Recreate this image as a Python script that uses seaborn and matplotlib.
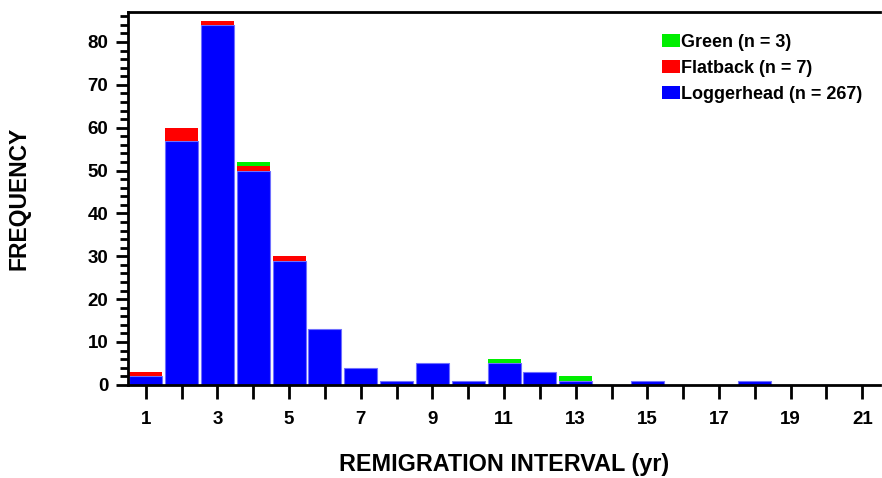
import matplotlib
matplotlib.use("Agg")
import matplotlib.pyplot as plt
import seaborn as sns
import pandas as pd
from matplotlib.patches import Patch
from matplotlib.ticker import MultipleLocator
from matplotlib.colors import to_hex

intervals = list(range(1, 22))
loggerhead = [2, 57, 84, 50, 29, 13, 4, 1, 5, 1, 5, 3, 1, 0, 1, 0, 0, 1, 0, 0, 0]
flatback = [1, 3, 1, 1, 1, 0, 0, 0, 0, 0, 0, 0, 0, 0, 0, 0, 0, 0, 0, 0, 0]
green = [0, 0, 0, 1, 0, 0, 0, 0, 0, 0, 1, 0, 1, 0, 0, 0, 0, 0, 0, 0, 0]
species = ["Green", "Flatback", "Loggerhead"]
labels = ["Green (n = 3)", "Flatback (n = 7)", "Loggerhead (n = 267)"]
colors = {"Green": "#00ee00", "Flatback": "#ff0000", "Loggerhead": "#0000ff"}

rows = []
for sp, vals in zip(species, [green, flatback, loggerhead]):
    for x, v in zip(intervals, vals):
        rows.append({"interval": x, "count": v, "species": sp})
df = pd.DataFrame(rows)

sns.set_style("white")
plt.rcParams['font.family'] = ['Liberation Sans', 'DejaVu Sans']
plt.rcParams['font.weight'] = 'bold'
plt.rcParams['text.color'] = 'black'
plt.rcParams['axes.labelcolor'] = 'black'
plt.rcParams['xtick.color'] = 'black'
plt.rcParams['ytick.color'] = 'black'

fig = plt.figure(figsize=(8.82, 4.78), dpi=100)
ax = fig.add_axes([0.145, 0.195, 0.853, 0.78])

sns.histplot(data=df, x="interval", weights="count", hue="species",
             hue_order=species, multiple="stack", discrete=True, shrink=0.92,
             palette=colors, alpha=1, edgecolor="#6f6fff", linewidth=0.8,
             legend=False, ax=ax)
for p in ax.patches:
    if to_hex(p.get_facecolor()) != "#0000ff":
        p.set_edgecolor("none")

ax.set_xlim(0.5, 21.5)
ax.set_ylim(0, 87)
ax.set_xticks(range(1, 22, 2))
ax.xaxis.set_minor_locator(MultipleLocator(1))
ax.yaxis.set_major_locator(MultipleLocator(10))
ax.yaxis.set_minor_locator(MultipleLocator(2))
ax.tick_params(axis="x", which="both", direction="out", length=10, width=2,
               labelsize=13.5, colors="black", bottom=True, pad=9)
ax.tick_params(axis="y", which="major", direction="out", length=9, width=2,
               labelsize=13.5, colors="black", left=True, pad=5)
ax.tick_params(axis="y", which="minor", direction="out", length=6, width=2,
               colors="black", left=True)
for lab in ax.get_xticklabels() + ax.get_yticklabels():
    lab.set_fontweight("bold")
for s in ax.spines.values():
    s.set_visible(True)
    s.set_color("black")
    s.set_linewidth(2)
ax.spines["right"].set_visible(False)

ax.set_xlabel("REMIGRATION INTERVAL (yr)", fontsize=16.8, fontweight="bold", color="black")
ax.set_ylabel("FREQUENCY", fontsize=16.5, fontweight="bold", color="black")
ax.xaxis.set_label_coords(0.5, -0.183)
ax.yaxis.set_label_coords(-0.13, 0.5)

handles = [Patch(facecolor=colors[s], edgecolor="none") for s in species]
ax.legend(handles, labels, loc="upper right", bbox_to_anchor=(0.99, 0.97),
          frameon=False, prop={"weight": "bold", "size": 13},
          handlelength=1.0, handleheight=0.7, handletextpad=0.05,
          labelspacing=0.5, borderaxespad=0.2)

fig.savefig("out.png", dpi=100)
